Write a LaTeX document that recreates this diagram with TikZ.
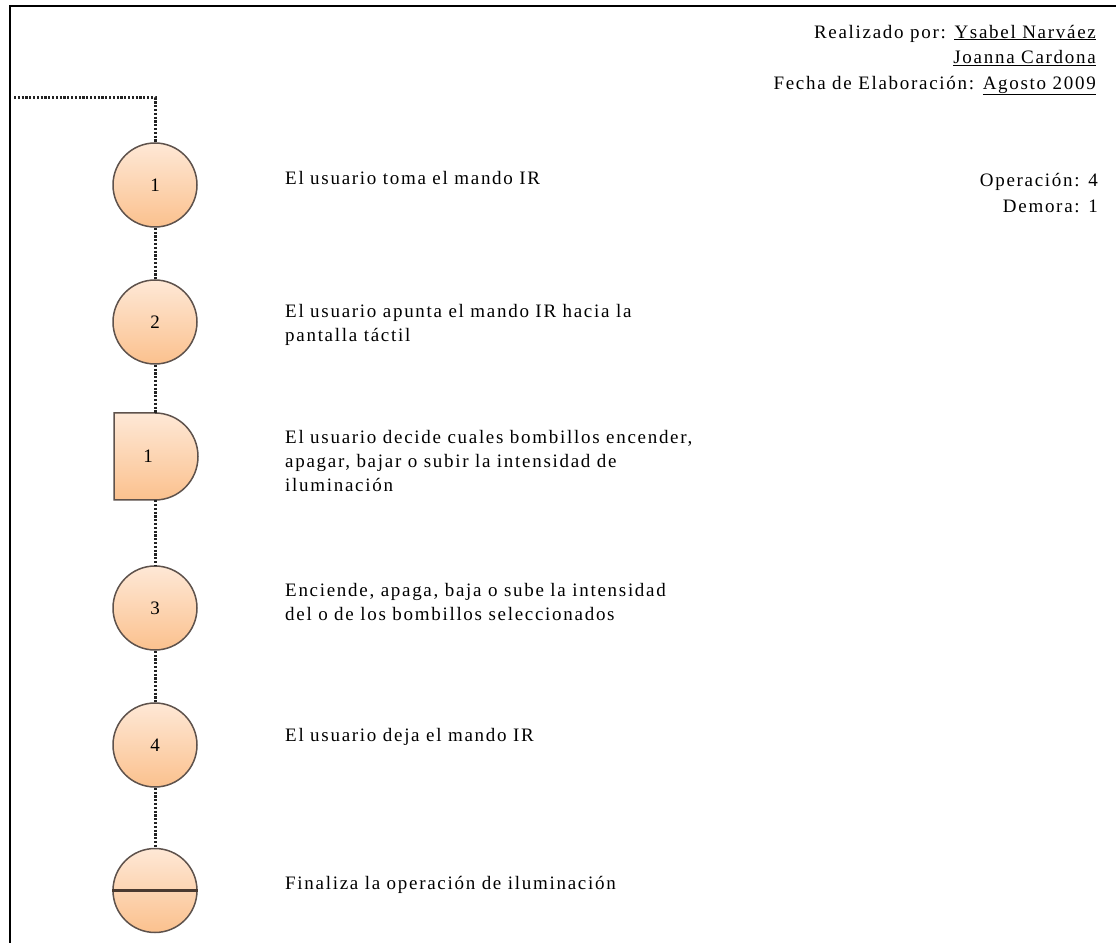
\documentclass[tikz,border=0pt]{standalone}
\usepackage{fontspec}
\setmainfont{Liberation Serif}
\newfontfamily\sheetfont[LetterSpace=9]{Liberation Serif}
\begin{document}
\begin{tikzpicture}[x=1pt,y=1pt,
  stepfill/.style={top color=peachtop, bottom color=peachbot, draw=outline, line width=1.5pt},
  opcircle/.style={stepfill, circle, minimum size=84pt, inner sep=0pt,
    font=\fontsize{19}{20}\selectfont},
  flow/.style={draw=dotline, line width=3pt, dash pattern=on 2.2pt off 1.6pt},
  desc/.style={anchor=west, inner sep=0pt, align=left,
    font=\sheetfont\fontsize{19}{24}\selectfont},
  info/.style={anchor=east, inner sep=0pt, align=right,
    font=\sheetfont\fontsize{19}{25.5}\selectfont}]
\definecolor{peachtop}{HTML}{FEE8D6}
\definecolor{peachbot}{HTML}{FBC18E}
\definecolor{outline}{HTML}{5E524C}
\definecolor{dotline}{HTML}{222222}
\definecolor{barline}{HTML}{4A3A30}

\useasboundingbox (0,0) rectangle (1116,943);

% sheet border
\draw[line width=2pt] (1116,937) -- (10,937) -- (10,0);

% header
\node[info] (author) at (1096,883) {Realizado por: \underline{Ysabel Narváez}\\
  \underline{Joanna Cardona}\\
  Fecha de Elaboración: \underline{Agosto 2009}};
\node[info, font=\sheetfont\fontsize{19}{26}\selectfont] (summary) at (1098,750)
  {Operación: 4\\Demora: 1};

% process symbols
\node[opcircle] (c1) at (155,758) {1};
\node[opcircle] (c2) at (155,621) {2};
\path[stepfill] (114,530) -- (155,530)
  arc[start angle=90, end angle=-90, x radius=43pt, y radius=43.5pt]
  -- (114,443) -- cycle;
\node[minimum width=2pt, minimum height=87pt, inner sep=0pt] (d1) at (155,486.5) {};
\node[font=\fontsize{19}{20}\selectfont, inner sep=0pt] (d1num) at (148,486.5) {1};
\node[opcircle] (c3) at (155,335) {3};
\node[opcircle] (c4) at (155,198) {4};
\node[opcircle] (fin) at (155,52.5) {};
\draw[barline, line width=3pt] (fin.west) -- (fin.east);

% flow line
\coordinate (start) at (14,845);
\coordinate (corner) at (155,845);
\draw[flow] (start) -- (corner) -- (c1.north);
\draw[flow] (c1.south) -- (c2.north);
\draw[flow] (c2.south) -- (d1.north);
\draw[flow] (d1.south) -- (c3.north);
\draw[flow] (c3.south) -- (c4.north);
\draw[flow] (c4.south) -- (fin.north);

% descriptions
\node[desc] (t1) at (285,765) {El usuario toma el mando IR};
\node[desc] (t2) at (285,618) {El usuario apunta el mando IR hacia la\\pantalla táctil};
\node[desc] (t3) at (285,482) {El usuario decide cuales bombillos encender,\\apagar, bajar o subir la intensidad de\\iluminación};
\node[desc] (t4) at (285,341) {Enciende, apaga, baja o sube la intensidad\\del o de los bombillos seleccionados};
\node[desc] (t5) at (285,206) {El usuario deja el mando IR};
\node[desc] (t6) at (285,58) {Finaliza la operación de iluminación};
\end{tikzpicture}
\end{document}
